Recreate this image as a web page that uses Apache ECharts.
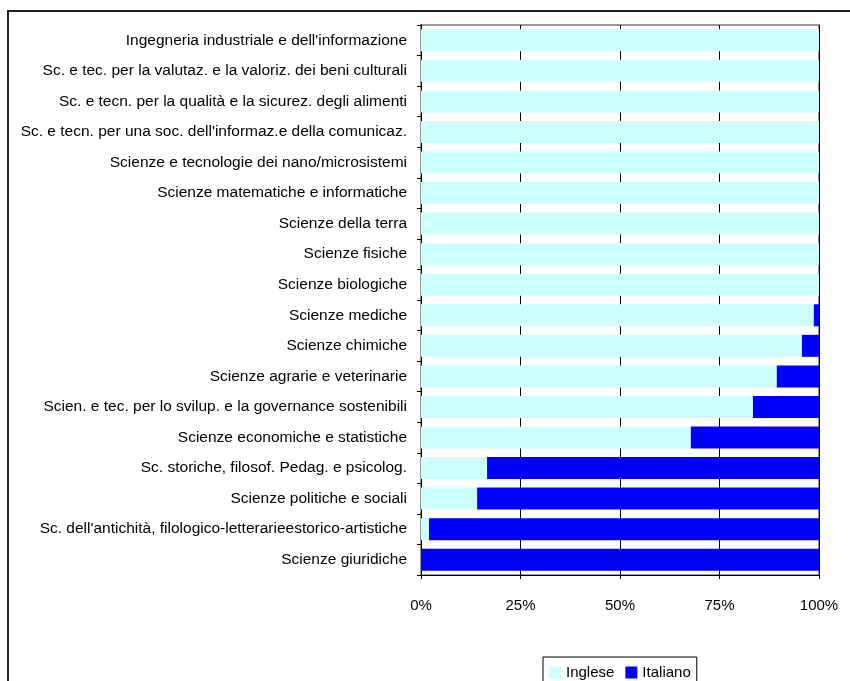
<!DOCTYPE html>
<html>
<head>
<meta charset="utf-8">
<script src="https://cdn.jsdelivr.net/npm/echarts@6.0.0/dist/echarts.min.js"></script>
<style>
    html, body { margin: 0; padding: 0; background: #fff; }
    #chart { width: 850px; height: 681px; }
</style>
</head>
<body>
<div id="chart"></div>
<script>
var categories = [
    'Ingegneria industriale e dell\'informazione',
    'Sc. e tec. per la valutaz. e la valoriz. dei beni culturali',
    'Sc. e tecn. per la qualità e la sicurez. degli alimenti',
    'Sc. e tecn. per una soc. dell\'informaz.e della comunicaz.',
    'Scienze e tecnologie dei nano/microsistemi',
    'Scienze matematiche e informatiche',
    'Scienze della terra',
    'Scienze fisiche',
    'Scienze biologiche',
    'Scienze mediche',
    'Scienze chimiche',
    'Scienze agrarie e veterinarie',
    'Scien. e tec. per lo svilup. e la governance sostenibili',
    'Scienze economiche e statistiche',
    'Sc. storiche, filosof. Pedag. e psicolog.',
    'Scienze politiche e sociali',
    'Sc. dell\'antichità, filologico-letterarieestorico-artistiche',
    'Scienze giuridiche'
]
var inglese = [100, 100, 100, 100, 100, 100, 100, 100, 100, 98.7, 95.7, 89.4, 83.4, 67.8, 16.6, 14.1, 2.0, 0]
var italiano = [0, 0, 0, 0, 0, 0, 0, 0, 0, 1.3, 4.3, 10.6, 16.6, 32.2, 83.4, 85.9, 98.0, 100]
var xTicks = [0, 25, 50, 75, 100]

var font = '"Liberation Sans", Arial, sans-serif'
var fontSize = 15

var chart = echarts.init(document.getElementById('chart'))

var option = {
    animation: false,
    textStyle: {fontFamily: font},
    graphic: [
        {
            type: 'rect',
            shape: {x: 8, y: 11, width: 900, height: 700},
            style: {fill: 'none', stroke: '#222', lineWidth: 2}
        }
    ],
    legend: {
        left: 543,
        top: 657,
        padding: [8, 6, 6, 6],
        itemGap: 11,
        itemWidth: 12,
        itemHeight: 12,
        borderColor: '#000',
        borderWidth: 1,
        borderRadius: 0,
        icon: 'rect',
        textStyle: {fontFamily: font, fontSize: fontSize, color: '#000'},
        data: ['Inglese', 'Italiano']
    },
    grid: {
        left: 421,
        right: 31,
        top: 25,
        bottom: 106,
        show: true,
        borderColor: '#999',
        borderWidth: 2,
        containLabel: false,
        outerBoundsMode: 'none'
    },
    xAxis: {
        type: 'value',
        min: xTicks[0],
        max: xTicks[xTicks.length - 1],
        interval: 25,
        axisLine: {show: true, lineStyle: {color: '#000', width: 1}},
        axisTick: {show: true, length: 4, lineStyle: {color: '#000'}},
        axisLabel: {
            margin: 23,
            fontSize: fontSize,
            color: '#000',
            fontFamily: font,
            formatter: '{value}%'
        },
        splitLine: {show: true, lineStyle: {color: '#000', width: 1}}
    },
    yAxis: {
        type: 'category',
        inverse: true,
        data: categories,
        axisLine: {show: true, lineStyle: {color: '#000', width: 1}},
        axisTick: {show: true, length: 4, alignWithLabel: false, lineStyle: {color: '#000'}},
        axisLabel: {
            margin: 14,
            fontSize: 15.5,
            color: '#000',
            fontFamily: font,
            interval: 0
        },
        splitLine: {show: false}
    },
    series: [
        {
            name: 'Inglese',
            type: 'bar',
            stack: 'lingua',
            barCategoryGap: '28%',
            data: inglese,
            itemStyle: {color: '#CCFFFF'}
        },
        {
            name: 'Italiano',
            type: 'bar',
            stack: 'lingua',
            barCategoryGap: '28%',
            data: italiano,
            itemStyle: {color: '#0000FF'}
        }
    ]
}

chart.setOption(option)
</script>
</body>
</html>
